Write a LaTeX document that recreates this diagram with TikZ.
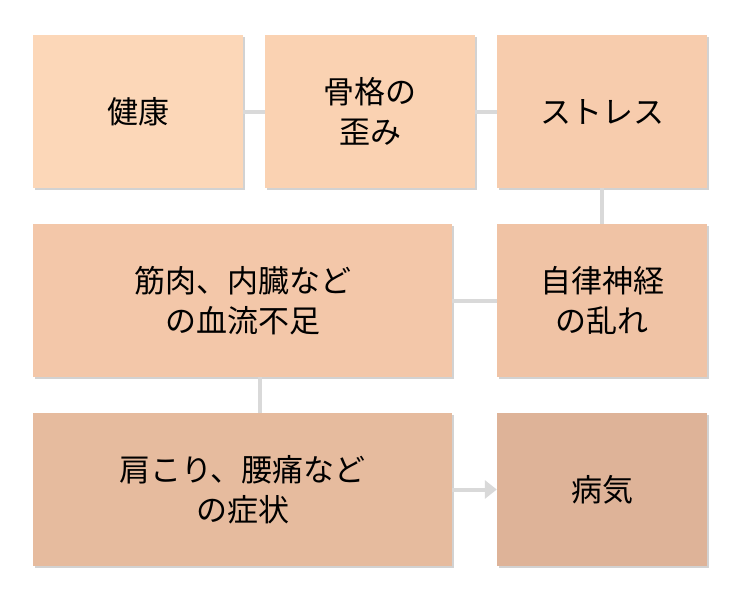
\documentclass[tikz,border=0pt]{standalone}
\usepackage{fontspec}
\newfontfamily\cjk{Noto Sans CJK JP}
\usetikzlibrary{shadows,arrows.meta}
\definecolor{c1}{HTML}{FCD7B8}
\definecolor{c2}{HTML}{FAD2B2}
\definecolor{c3}{HTML}{F7CCAD}
\definecolor{c4}{HTML}{F3C7A9}
\definecolor{c5}{HTML}{F0C3A5}
\definecolor{c6}{HTML}{E6BB9E}
\definecolor{c7}{HTML}{DEB398}
\definecolor{ln}{HTML}{D9D9D9}
\tikzset{
 bx/.style={draw=none,fill=#1,minimum height=153pt,align=center,inner sep=0pt,
   font=\cjk\fontsize{31}{40}\selectfont,text=black,
   drop shadow={shadow xshift=2pt,shadow yshift=-2pt,fill=black!35,opacity=.5}},
 con/.style={ln,line width=4pt}
}
\begin{document}
\begin{tikzpicture}[x=1pt,y=-1pt]
\useasboundingbox (0,0) rectangle (750,600);
\node[bx=c1,minimum width=210pt] (a) at (138,111.5) {健康};
\node[bx=c2,minimum width=210pt] (b) at (370,111.5) {骨格の\\歪み};
\node[bx=c3,minimum width=210pt] (c) at (602,111.5) {ストレス};
\node[bx=c5,minimum width=210pt] (d) at (602,300.5) {自律神経\\の乱れ};
\node[bx=c4,minimum width=419pt] (e) at (242.5,300.5) {筋肉、内臓など\\の血流不足};
\node[bx=c6,minimum width=419pt] (f) at (242.5,489.5) {肩こり、腰痛など\\の症状};
\node[bx=c7,minimum width=210pt] (g) at (602,489.5) {病気};
\draw[con] (a.east) -- (b.west);
\draw[con] (b.east) -- (c.west);
\draw[con] (c.south) -- (d.north);
\draw[con] (d.west) -- (e.east);
\draw[con] (e.south) -- (f.south |- e.south) ++(0,0);
\draw[con] (260,377) -- (260,413);
\draw[con,-{Triangle[length=12pt,width=18pt]}] (f.east) -- (g.west);
\end{tikzpicture}
\end{document}
